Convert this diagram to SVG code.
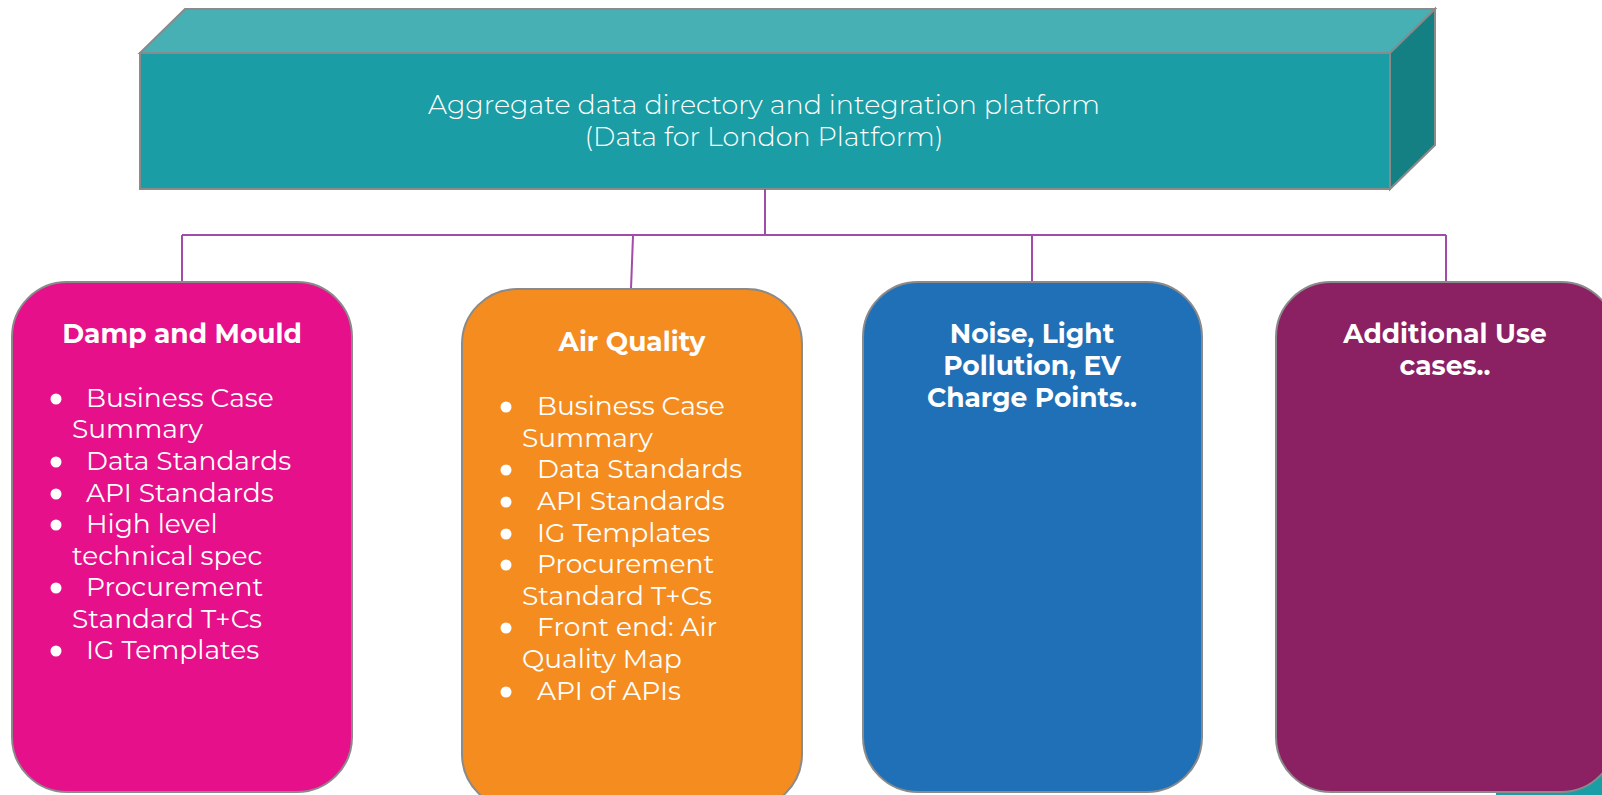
<svg xmlns="http://www.w3.org/2000/svg" width="1602" height="795" viewBox="0 0 1602 795">
<style>
.edge{stroke:#A04CA8;stroke-width:2;fill:none}
.card{stroke:#8a8a8a;stroke-width:2}
.head{font-family:"Montserrat","Open Sans","Liberation Sans",sans-serif;font-weight:700;font-size:26.5px;fill:#fff;text-anchor:middle}
.item{font-family:"Montserrat","Open Sans","Liberation Sans",sans-serif;font-weight:400;font-size:26.5px;fill:#fff}
.title{font-family:"Montserrat","Open Sans","Liberation Sans",sans-serif;font-weight:300;font-size:27px;fill:#fff;text-anchor:middle}
.dot{fill:#fff}
</style>
<rect width="1602" height="795" fill="#fff"/>
<rect x="1496" y="770" width="120" height="40" fill="#1A9DA5"/>
<g id="platform">
<polygon points="140,53 185,9 1435,9 1390,53" fill="#47B0B5" stroke="#8a8a8a" stroke-width="2"/>
<polygon points="1390,53 1435,9 1435,145 1390,189" fill="#158084" stroke="#8a8a8a" stroke-width="2"/>
<rect x="140" y="53" width="1250" height="136" fill="#1A9DA5" stroke="#8a8a8a" stroke-width="2"/>
<text class="title" x="764" y="114">Aggregate data directory and integration platform</text>
<text class="title" x="764" y="146">(Data for London Platform)</text>
</g>
<g id="connectors">
<path class="edge" d="M765 189 V235"/>
<path class="edge" d="M182 235 H1446"/>
<path class="edge" d="M182 235 V282"/>
<path class="edge" d="M633 236 L631 289"/>
<path class="edge" d="M1032 235 V282"/>
<path class="edge" d="M1446 235 V282"/>
</g>
<g id="damp-mould">
<rect class="card" x="12" y="282" width="340" height="510" rx="55" ry="55" fill="#E5108A"/>
<text class="head" x="182" y="343">Damp and Mould</text>
<circle class="dot" cx="56" cy="399" r="5.5"/>
<text class="item" x="86" y="407">Business Case</text>
<text class="item" x="72" y="438">Summary</text>
<circle class="dot" cx="56" cy="462" r="5.5"/>
<text class="item" x="86" y="470">Data Standards</text>
<circle class="dot" cx="56" cy="494" r="5.5"/>
<text class="item" x="86" y="502">API Standards</text>
<circle class="dot" cx="56" cy="525" r="5.5"/>
<text class="item" x="86" y="533">High level</text>
<text class="item" x="72" y="565">technical spec</text>
<circle class="dot" cx="56" cy="588" r="5.5"/>
<text class="item" x="86" y="596">Procurement</text>
<text class="item" x="72" y="628">Standard T+Cs</text>
<circle class="dot" cx="56" cy="651" r="5.5"/>
<text class="item" x="86" y="659">IG Templates</text>
</g>
<g id="air-quality">
<rect class="card" x="462" y="289" width="340" height="520" rx="55" ry="55" fill="#F48C20"/>
<text class="head" x="632" y="351">Air Quality</text>
<circle class="dot" cx="506" cy="407" r="5.5"/>
<text class="item" x="537" y="415">Business Case</text>
<text class="item" x="522" y="447">Summary</text>
<circle class="dot" cx="506" cy="470" r="5.5"/>
<text class="item" x="537" y="478">Data Standards</text>
<circle class="dot" cx="506" cy="502" r="5.5"/>
<text class="item" x="537" y="510">API Standards</text>
<circle class="dot" cx="506" cy="534" r="5.5"/>
<text class="item" x="537" y="542">IG Templates</text>
<circle class="dot" cx="506" cy="565" r="5.5"/>
<text class="item" x="537" y="573">Procurement</text>
<text class="item" x="522" y="605">Standard T+Cs</text>
<circle class="dot" cx="506" cy="628" r="5.5"/>
<text class="item" x="537" y="636">Front end: Air</text>
<text class="item" x="522" y="668">Quality Map</text>
<circle class="dot" cx="506" cy="692" r="5.5"/>
<text class="item" x="537" y="700">API of APIs</text>
</g>
<g id="noise-light">
<rect class="card" x="863" y="282" width="339" height="510" rx="55" ry="55" fill="#2070B8"/>
<text class="head" x="1032" y="343">Noise, Light</text>
<text class="head" x="1032" y="375">Pollution, EV</text>
<text class="head" x="1032" y="407">Charge Points..</text>
</g>
<g id="additional">
<rect class="card" x="1276" y="282" width="340" height="510" rx="55" ry="55" fill="#8B2062"/>
<text class="head" x="1445" y="343">Additional Use</text>
<text class="head" x="1445" y="375">cases..</text>
</g>
</svg>
